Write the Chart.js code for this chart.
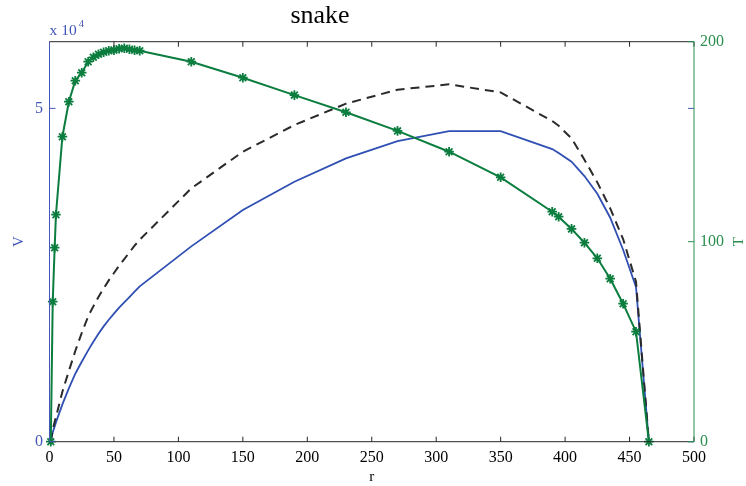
<!DOCTYPE html>
<html><head><meta charset="utf-8">
<script src="https://cdn.jsdelivr.net/npm/chart.js@4/dist/chart.umd.min.js"></script>
<style>html,body{margin:0;padding:0;background:#fff}#wrap{width:746px;height:486px;position:relative}</style>
</head><body><div id="wrap"><canvas id="c" width="746" height="486"></canvas></div>
<script>
// ---- data ----
const R  = [1, 2.5, 4, 5, 10, 15, 20, 25, 30, 34, 38, 42, 46, 50, 54, 58, 62, 66, 70, 110, 150, 190, 230, 270, 310, 350, 390, 395, 405, 415, 425, 435, 445, 455, 465];
const T  = [0, 70, 97, 113.5, 152.5, 170, 180.5, 184.5, 190, 192.2, 193.7, 194.7, 195.5, 195.8, 196.5, 196.7, 196.2, 195.7, 195.5, 190, 182, 173.3, 164.7, 155.4, 145, 132.2, 115, 112.5, 106.4, 99.5, 91.7, 81.5, 69, 55, 0];
const V  = [0, 1400, 2300, 2900, 5600, 8000, 10200, 12000, 13700, 15000, 16200, 17300, 18300, 19200, 20100, 20900, 21700, 22500, 23300, 29300, 34750, 39000, 42500, 45100, 46600, 46600, 43900, 43300, 42000, 39850, 37200, 33600, 28800, 23200, 0];
const VD = [0, 1800, 3000, 3700, 7500, 10600, 13600, 16300, 18800, 20300, 21700, 23000, 24200, 25300, 26400, 27400, 28400, 29400, 30300, 38000, 43500, 47500, 50700, 52800, 53600, 52400, 48100, 47400, 45500, 42300, 38900, 35000, 30400, 24000, 0];
const X_TICKS = [0, 50, 100, 150, 200, 250, 300, 350, 400, 450, 500];
const V_TICKS = [0, 50000];
const T_TICKS = [0, 100, 200];
const TITLE = 'snake';
const X_LABEL = 'r';
const V_LABEL = 'V';
const T_LABEL = 'T';

// ---- style ----
const SERIF = '"Liberation Serif", "Times New Roman", serif';
const BLUE = '#2f4fb3';
const BLUE_TXT = '#4257b8';
const GREEN = '#0b7d3e';
const GREEN_TXT = '#2a8f4f';
const BLACK = '#262626';

function pts(ys){ return R.map((r,i)=>({x:r, y:ys[i]})); }

const framePlugin = {
  id: 'frame',
  afterDraw(chart){
    const {ctx, chartArea:a, scales} = chart;
    const x = scales.x, y = scales.y, y1 = scales.y1;
    const L = (x1,y1_,x2,y2)=>{ctx.beginPath();ctx.moveTo(x1,y1_);ctx.lineTo(x2,y2);ctx.stroke();};
    ctx.save();
    ctx.lineWidth = 1;
    ctx.strokeStyle = BLACK;
    L(a.left, a.top, a.right, a.top);
    L(a.left, a.bottom, a.right, a.bottom);
    X_TICKS.forEach(v=>{const p=x.getPixelForValue(v); L(p,a.bottom,p,a.bottom-5); L(p,a.top,p,a.top+5);});
    ctx.strokeStyle = BLUE_TXT;
    L(a.left, a.top, a.left, a.bottom);
    V_TICKS.forEach(v=>{const p=y.getPixelForValue(v); L(a.left,p,a.left+6,p); L(a.right,p,a.right-6,p);});
    ctx.strokeStyle = GREEN_TXT;
    L(a.right, a.top, a.right, a.bottom);
    T_TICKS.forEach(v=>{const p=y1.getPixelForValue(v); L(a.right,p,a.right-6,p);});
    // title
    ctx.fillStyle = '#000';
    ctx.font = '26px ' + SERIF;
    ctx.textAlign = 'center';
    ctx.textBaseline = 'alphabetic';
    ctx.fillText(TITLE, 320, 23);
    // exponent label
    ctx.fillStyle = BLUE_TXT;
    ctx.textAlign = 'left';
    ctx.font = '15.5px ' + SERIF;
    ctx.fillText('x 10', a.left, 34.5);
    const w = ctx.measureText('x 10').width;
    ctx.font = '10.5px ' + SERIF;
    ctx.fillText('4', a.left + w + 2, 27);
    // right axis label
    ctx.fillStyle = GREEN_TXT;
    ctx.font = '15px ' + SERIF;
    ctx.translate(739, y1.getPixelForValue(100));
    ctx.rotate(-Math.PI/2);
    ctx.textAlign = 'center';
    ctx.textBaseline = 'middle';
    ctx.fillText(T_LABEL, 0, 0);
    ctx.restore();
  }
};

new Chart(document.getElementById('c'), {
  type: 'scatter',
  data: {
    datasets: [
      {label:'T', data: pts(T), yAxisID:'y1', showLine:true, borderColor:GREEN, borderWidth:2,
       pointStyle:'star', pointRadius:4.8, pointBorderWidth:1.8, pointBorderColor:GREEN, pointBackgroundColor:GREEN, clip:false, tension:0},
      {label:'Vd', data: pts(VD), yAxisID:'y', showLine:true, borderColor:'#2a2a2a', borderWidth:2, borderDash:[9,6],
       pointRadius:0, clip:false, tension:0},
      {label:'V', data: pts(V), yAxisID:'y', showLine:true, borderColor:BLUE, borderWidth:1.8,
       pointRadius:0, clip:false, tension:0}
    ]
  },
  options: {
    responsive:false, animation:false, devicePixelRatio:1,
    layout:{padding:{top:41.7, left:0, right:0, bottom:0}},
    plugins:{legend:{display:false}, tooltip:{enabled:false}, title:{display:false}},
    scales:{
      x:{type:'linear', position:'bottom', min:0, max:500,
         afterBuildTicks:s=>{s.ticks = X_TICKS.map(v=>({value:v}));},
         afterFit:s=>{s.height = 44.3;},
         grid:{display:false, drawTicks:false}, border:{display:false},
         ticks:{color:'#000', font:{family:SERIF, size:16}, padding:6.2, maxRotation:0, minRotation:0, autoSkip:false},
         title:{display:true, text:X_LABEL, color:'#000', font:{family:SERIF, size:15}, padding:{top:0,bottom:0}}},
      y:{type:'linear', position:'left', min:0, max:60000,
         afterBuildTicks:s=>{s.ticks = V_TICKS.map(v=>({value:v}));},
         afterFit:s=>{s.width = 49.5;},
         grid:{display:false, drawTicks:false}, border:{display:false},
         ticks:{color:BLUE_TXT, font:{family:SERIF, size:16}, padding:6.5, callback:v=>String(v/10000)},
         title:{display:true, text:V_LABEL, color:BLUE_TXT, font:{family:SERIF, size:15}, padding:{top:10,bottom:0}}},
      y1:{type:'linear', position:'right', min:0, max:200,
         afterBuildTicks:s=>{s.ticks = T_TICKS.map(v=>({value:v}));},
         afterFit:s=>{s.width = 52;},
         grid:{display:false, drawTicks:false}, border:{display:false},
         ticks:{color:GREEN_TXT, font:{family:SERIF, size:16}, padding:6, callback:v=>String(v)}}
    }
  },
  plugins:[framePlugin]
});
</script></body></html>
